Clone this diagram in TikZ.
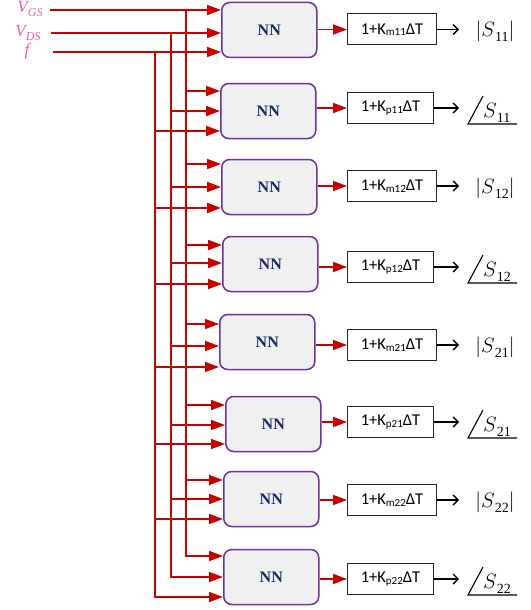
\documentclass[tikz,border=0pt]{standalone}
\usepackage{fontspec}
\setmainfont{Liberation Serif}
\newfontfamily\calib{Carlito}
\usetikzlibrary{arrows.meta,calc}
\definecolor{sigred}{RGB}{200,0,0}
\definecolor{inpink}{RGB}{240,90,170}
\definecolor{nnpurple}{RGB}{112,48,160}
\definecolor{nngray}{RGB}{240,240,240}
\definecolor{nnnavy}{RGB}{20,40,100}
\newcommand{\subdig}[1]{\raisebox{-5pt}{\fontsize{14}{14}\selectfont #1}}
\tikzset{
  nnbox/.style={draw=nnpurple, fill=nngray, rounded corners=8pt, line width=1.5pt,
    minimum width=95pt, minimum height=55pt, inner sep=0pt, anchor=west,
    font=\fontsize{16}{16}\selectfont\bfseries, text=nnnavy},
  kbox/.style={draw=black!85, line width=1pt, minimum height=31pt, inner sep=0pt,
    anchor=west, font=\calib\fontsize{16.5}{16.5}\selectfont},
  sig/.style={draw=sigred, line width=1.8pt, -{Triangle[length=14pt,width=10pt]}},
  bus/.style={draw=sigred, line width=1.8pt, line cap=rect},
  outarr/.style={draw=black, line width=1.4pt, -{Straight Barb[length=5pt,width=10pt]}},
  inlab/.style={text=inpink, inner sep=0pt, font=\fontsize{17}{17}\selectfont\itshape},
  slab/.style={inner sep=0pt, font=\fontsize{21}{21}\selectfont},
  angline/.style={draw=black, line width=1.1pt}
}
\begin{document}
\begin{tikzpicture}[x=1pt,y=-1pt]
\useasboundingbox (0,0) rectangle (530,610);

% input labels
\node[inlab] (vgs) at (30,9) {V\raisebox{-4pt}{\fontsize{12}{12}\selectfont GS}};
\node[inlab] (vds) at (28,33) {V\raisebox{-4pt}{\fontsize{12}{12}\selectfont DS}};
\node[inlab] (fin) at (27,51) {f};
\coordinate (gin) at (50,10);
\coordinate (din) at (51,33);
\coordinate (fst) at (53,52);

% rows
\foreach \i/\lx/\cy/\by/\kk/\ss/\ph in {
  1/221/30/29.5/m11/11/0, 2/220/111/108/p11/11/1, 3/221/187/186/m12/12/0,
  4/222/264/267/p12/12/1, 5/219/342/345/m21/21/0, 6/225/424/422/p21/21/1,
  7/223/499/500/m22/22/0, 8/223/577/579/p22/22/1}{
  \node[nnbox] (nn\i) at (\lx,\cy) {NN};
  \node[kbox, minimum width={89pt-3pt*\ph}] (k\i) at (347,\by)
    {1+K\raisebox{-1.5pt}{\fontsize{11}{11}\selectfont\kk}ΔT};
  \draw[sig] (nn\i.east |- k\i.west) -- (k\i.west);
  \coordinate (o\i) at (459,\by);
  \draw[outarr] (k\i.east) -- (o\i);
  \ifnum\ph=0
    \node[slab, anchor=base] (s\i) at (495,\by+7.5) {$|S$\subdig{\ss}$|$};
  \else
    \node[slab, anchor=base west] (s\i) at (483,\by+9.5) {$S$\subdig{\ss}};
    \draw[angline] (483,\by-12) -- (468,\by+16) -- (517,\by+16);
  \fi
}

% first NN fed directly
\draw[sig] (gin) -- (gin -| nn1.west);
\draw[sig] (din) -- (din -| nn1.west);
\draw[sig] (fst) -- (fst -| nn1.west);

% bus taps
\foreach \i/\ya/\yb/\yc in {2/91/111/131, 3/164/187/208, 4/245/263/284,
  5/324/346/367, 6/405/425/444, 7/480/499/519, 8/556/577/597}{
  \coordinate (g\i) at (186,\ya);
  \coordinate (d\i) at (171,\yb);
  \coordinate (f\i) at (155,\yc);
  \draw[sig] (g\i) -- (g\i -| nn\i.west);
  \draw[sig] (d\i) -- (d\i -| nn\i.west);
  \draw[sig] (f\i) -- (f\i -| nn\i.west);
}
\coordinate (gtop) at (186,10);
\coordinate (dtop) at (171,33);
\coordinate (ftop) at (155,52);
\draw[bus] (gtop) -- (g8);
\draw[bus] (dtop) -- (d8);
\draw[bus] (ftop) -- (f8);
\end{tikzpicture}
\end{document}
